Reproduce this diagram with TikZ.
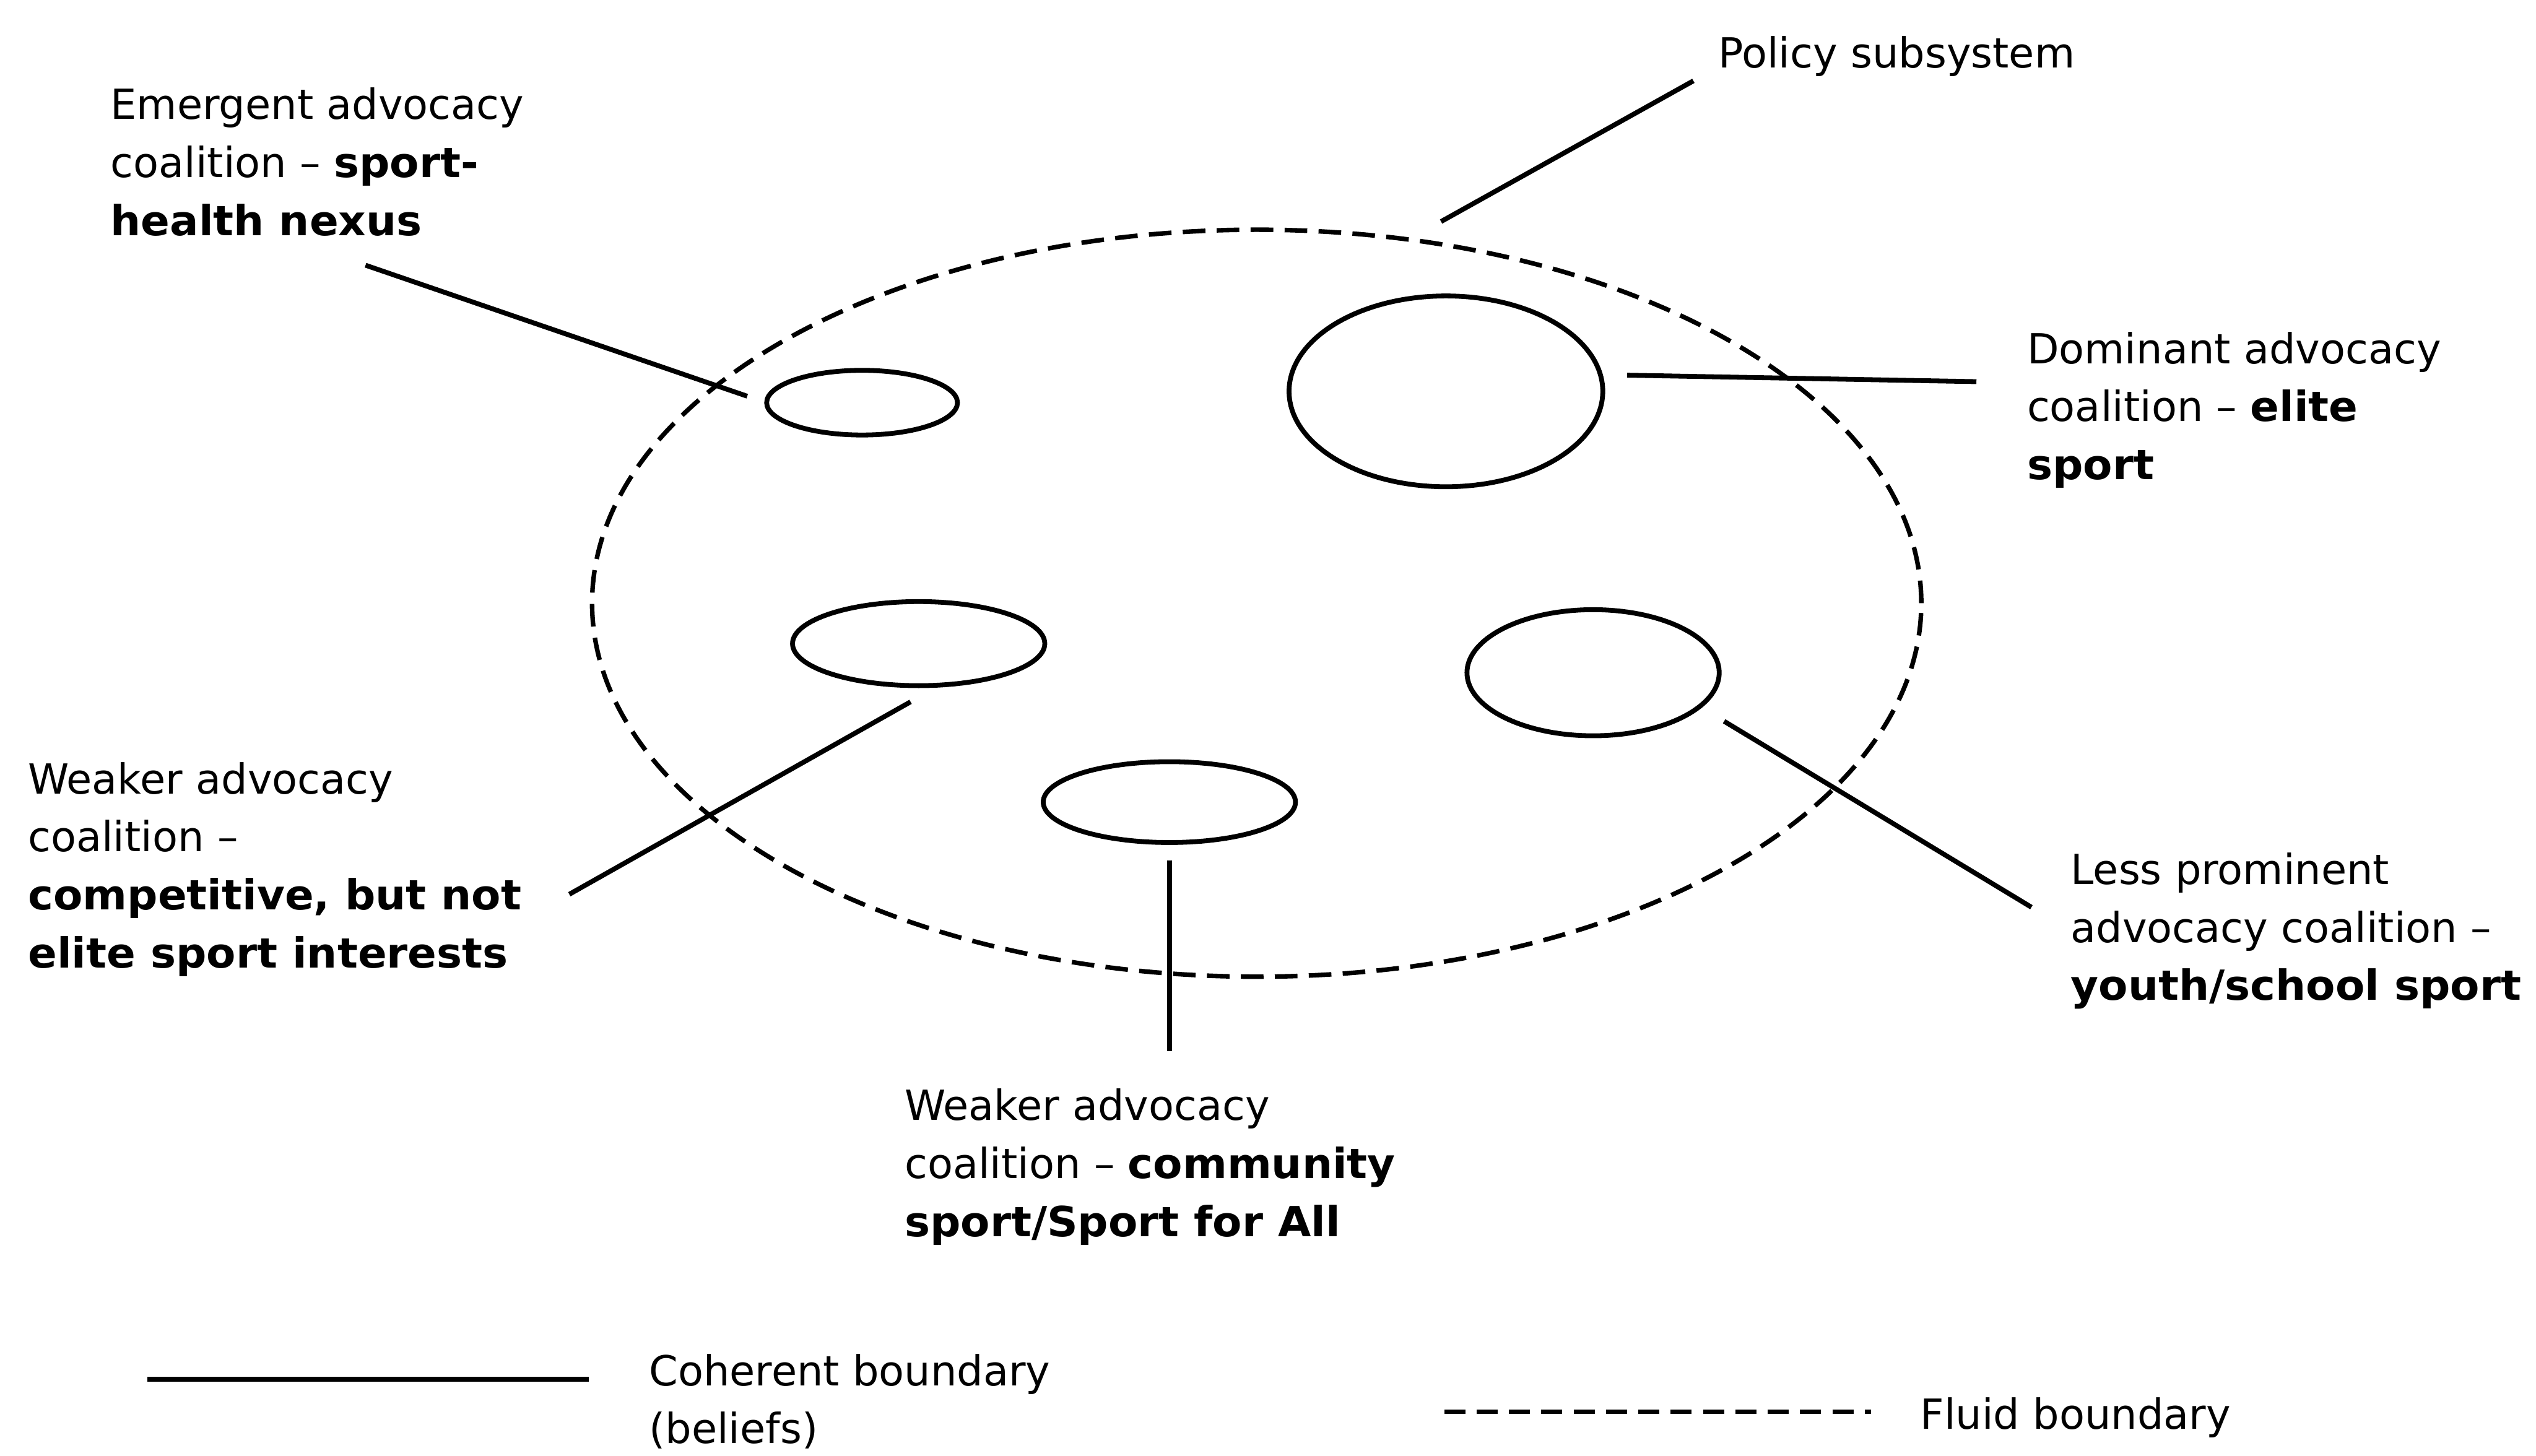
\documentclass[tikz,border=0pt]{standalone}
\usepackage{fontspec}
\setmainfont[BoldFeatures={FakeStretch=1.03}]{DejaVu Sans}
\usetikzlibrary{shapes.geometric}
\begin{document}
\begin{tikzpicture}[x=0.02cm,y=-0.02cm,
  lbl/.style={anchor=north west,inner sep=0pt,align=left,font=\fontsize{14.6}{20.4}\selectfont},
  coal/.style={draw,ellipse,inner sep=0pt,line width=1.7pt},
  conn/.style={line width=1.7pt},
  fluid/.style={line width=1.6pt,dash pattern=on 0.28cm off 0.14cm}]
\useasboundingbox (0,0) rectangle (1568,900);
% policy subsystem
\node[coal,fluid,minimum width=16.44cm,minimum height=9.24cm] (sub) at (777,373) {};
% coalitions
\node[coal,minimum width=2.36cm,minimum height=0.8cm] (health) at (533,249) {};
\node[coal,minimum width=3.88cm,minimum height=2.36cm] (elite) at (894,242) {};
\node[coal,minimum width=3.12cm,minimum height=1.04cm] (comp) at (568,398) {};
\node[coal,minimum width=3.12cm,minimum height=1.56cm] (youth) at (985,416) {};
\node[coal,minimum width=3.12cm,minimum height=1.0cm] (comm) at (723,496) {};
% labels
\node[lbl] (tsub) at (1062,22) {Policy subsystem};
\node[lbl] (themergent) at (68,54) {Emergent advocacy\\coalition – \textbf{sport-}\\\textbf{health nexus}};
\node[lbl] (tdominant) at (1253,205) {Dominant advocacy\\coalition – \textbf{elite}\\\textbf{sport}};
\node[lbl] (tcomp) at (17,471) {Weaker advocacy\\coalition –\\\textbf{competitive, but not}\\\textbf{elite sport interests}};
\node[lbl] (tyouth) at (1280,527) {Less prominent\\advocacy coalition –\\\textbf{youth/school sport}};
\node[lbl] (tcomm) at (559,673) {Weaker advocacy\\coalition – \textbf{community}\\\textbf{sport/Sport for All}};
\node[lbl] (tcoh) at (401,837) {Coherent boundary\\(beliefs)};
\node[lbl] (tflu) at (1187,864) {Fluid boundary};
% connector ends
\coordinate (a1) at (891,137); \coordinate (a2) at (1047,50);
\coordinate (b1) at (226,164); \coordinate (b2) at (462,245);
\coordinate (c1) at (1006,232); \coordinate (c2) at (1222,236);
\coordinate (d1) at (352,553); \coordinate (d2) at (563,434);
\coordinate (e1) at (1066,446); \coordinate (e2) at (1256,561);
\coordinate (f1) at (723,532); \coordinate (f2) at (723,650);
\coordinate (g1) at (91,853); \coordinate (g2) at (364,853);
\coordinate (h1) at (893,873); \coordinate (h2) at (1157,873);
\draw[conn] (a1) -- (a2);
\draw[conn] (b1) -- (b2);
\draw[conn] (c1) -- (c2);
\draw[conn] (d1) -- (d2);
\draw[conn] (e1) -- (e2);
\draw[conn] (f1) -- (f2);
\draw[conn] (g1) -- (g2);
\draw[line width=1.7pt,dash pattern=on 0.26cm off 0.14cm] (h1) -- (h2);
\end{tikzpicture}
\end{document}
